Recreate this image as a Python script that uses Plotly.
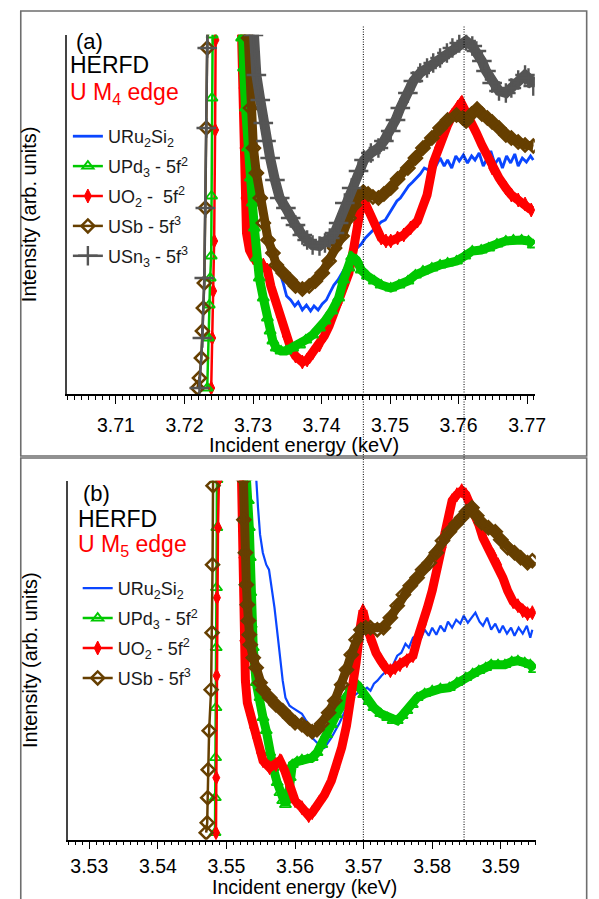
import plotly.graph_objects as go

# ---------------- Panel (a): U M4 edge ----------------
a_uru2si2_E = [3.72920, 3.72948, 3.72977, 3.73034, 3.73092, 3.7315, 3.7322, 3.7329, 3.7336, 3.7344, 3.7349, 3.7355, 3.7361, 3.7366, 3.7372, 3.7378, 3.7384, 3.7389, 3.7395, 3.7401, 3.7407, 3.7412, 3.7418, 3.7424, 3.7430, 3.7435, 3.7441, 3.7447, 3.7452, 3.7458, 3.7464, 3.7470, 3.7475, 3.7481, 3.7487, 3.7493, 3.7498, 3.7504, 3.7510, 3.7515, 3.7521, 3.7527, 3.7533, 3.7538, 3.7544, 3.7550, 3.7556, 3.7561, 3.7567, 3.7573, 3.7579, 3.7584, 3.7590, 3.7596, 3.7601, 3.7607, 3.7613, 3.7619, 3.7624, 3.7630, 3.7636, 3.7642, 3.7647, 3.7653, 3.7659, 3.7664, 3.7670, 3.7676, 3.7682, 3.7687, 3.7693, 3.7699, 3.7705, 3.7709]
a_uru2si2_I = [4.36, 3.26, 2.59, 2.26, 2.01, 1.81, 1.61, 1.44, 1.28, 1.11, 0.98, 0.94, 0.88, 0.92, 0.84, 0.89, 0.83, 0.88, 0.84, 0.90, 0.94, 1.01, 1.09, 1.14, 1.21, 1.28, 1.34, 1.41, 1.46, 1.50, 1.56, 1.60, 1.64, 1.68, 1.72, 1.74, 1.80, 1.86, 1.93, 1.96, 2.02, 2.08, 2.12, 2.16, 2.20, 2.26, 2.24, 2.33, 2.28, 2.36, 2.28, 2.34, 2.26, 2.38, 2.33, 2.39, 2.31, 2.38, 2.34, 2.41, 2.28, 2.36, 2.43, 2.30, 2.36, 2.26, 2.38, 2.31, 2.40, 2.28, 2.36, 2.32, 2.38, 2.34]

a_upd3_E = [3.72332, 3.72347, 3.72361, 3.72375, 3.72390, 3.72395, 3.72400, 3.72404, 3.72418, 3.72819, 3.72834, 3.72862, 3.72891, 3.72920, 3.72963, 3.72991, 3.73020, 3.73049, 3.73092, 3.7315, 3.7321, 3.7325, 3.7329, 3.7334, 3.7341, 3.7348, 3.7358, 3.7368, 3.7377, 3.7387, 3.7397, 3.7405, 3.7415, 3.7425, 3.7432, 3.7440, 3.7444, 3.7451, 3.7458, 3.7467, 3.7477, 3.7487, 3.7501, 3.7513, 3.7526, 3.7537, 3.7548, 3.7561, 3.7573, 3.7584, 3.7597, 3.7609, 3.7620, 3.7633, 3.7644, 3.7656, 3.7669, 3.7680, 3.7692, 3.7702, 3.7709]
a_upd3_I = [0.06, 0.56, 0.89, 1.16, 1.38, 1.98, 2.96, 3.59, 4.36, 4.36, 3.56, 3.26, 2.86, 2.46, 2.16, 1.91, 1.66, 1.36, 1.16, 0.96, 0.76, 0.63, 0.53, 0.46, 0.43, 0.43, 0.46, 0.49, 0.54, 0.59, 0.66, 0.73, 0.83, 0.96, 1.14, 1.26, 1.37, 1.34, 1.24, 1.18, 1.13, 1.09, 1.06, 1.09, 1.13, 1.19, 1.23, 1.26, 1.29, 1.31, 1.33, 1.38, 1.43, 1.44, 1.46, 1.50, 1.53, 1.54, 1.54, 1.53, 1.49]

a_uo2_E = [3.72390, 3.72404, 3.72418, 3.72433, 3.72447, 3.72452, 3.72461, 3.72805, 3.72834, 3.72848, 3.72862, 3.72877, 3.72905, 3.72948, 3.73006, 3.73077, 3.7315, 3.7321, 3.7326, 3.7332, 3.7339, 3.7348, 3.7355, 3.7362, 3.7372, 3.7379, 3.7387, 3.7397, 3.7404, 3.7411, 3.7418, 3.7425, 3.7432, 3.7440, 3.7447, 3.7452, 3.7460, 3.7465, 3.7472, 3.7480, 3.7487, 3.7494, 3.7501, 3.7511, 3.7520, 3.7530, 3.7540, 3.7547, 3.7554, 3.7563, 3.7570, 3.7577, 3.7584, 3.7591, 3.7599, 3.7604, 3.7610, 3.7616, 3.7626, 3.7634, 3.7642, 3.7649, 3.7659, 3.7669, 3.7677, 3.7687, 3.7697, 3.7706]
a_uo2_I = [0.06, 0.56, 1.03, 1.53, 2.64, 3.54, 4.36, 4.36, 3.59, 3.06, 2.46, 1.96, 1.61, 1.44, 1.36, 1.32, 1.29, 1.24, 1.08, 0.94, 0.78, 0.58, 0.46, 0.38, 0.32, 0.34, 0.41, 0.49, 0.58, 0.68, 0.81, 0.91, 1.06, 1.21, 1.46, 1.71, 1.98, 1.89, 1.79, 1.66, 1.56, 1.53, 1.53, 1.56, 1.59, 1.66, 1.73, 1.86, 1.99, 2.31, 2.46, 2.59, 2.69, 2.79, 2.87, 2.91, 2.83, 2.73, 2.61, 2.49, 2.38, 2.26, 2.16, 2.06, 1.99, 1.94, 1.90, 1.84]

a_usb_E = [3.72189, 3.72218, 3.72246, 3.72261, 3.72275, 3.72289, 3.72304, 3.72318, 3.72332, 3.72347, 3.72877, 3.72934, 3.72963, 3.73006, 3.73049, 3.73106, 3.7315, 3.7322, 3.7329, 3.7334, 3.7344, 3.7354, 3.7362, 3.7372, 3.7382, 3.7391, 3.7401, 3.7411, 3.7419, 3.7430, 3.7440, 3.7448, 3.7454, 3.7461, 3.7468, 3.7475, 3.7483, 3.7491, 3.7501, 3.7511, 3.7526, 3.7537, 3.7548, 3.7561, 3.7573, 3.7584, 3.7597, 3.7606, 3.7611, 3.7619, 3.7627, 3.7634, 3.7642, 3.7649, 3.7659, 3.7669, 3.7677, 3.7687, 3.7697, 3.7709]
a_usb_I = [0.06, 0.16, 0.36, 0.63, 0.86, 1.11, 1.86, 2.66, 3.46, 4.36, 4.36, 3.56, 2.86, 2.46, 2.21, 1.96, 1.71, 1.54, 1.41, 1.29, 1.21, 1.14, 1.08, 1.05, 1.08, 1.13, 1.21, 1.33, 1.46, 1.58, 1.76, 1.89, 1.98, 2.02, 2.00, 1.97, 1.96, 2.00, 2.06, 2.15, 2.26, 2.36, 2.46, 2.56, 2.66, 2.74, 2.79, 2.76, 2.73, 2.80, 2.85, 2.80, 2.76, 2.72, 2.66, 2.59, 2.56, 2.52, 2.49, 2.48]

a_usn3_E = [3.72218, 3.72261, 3.72289, 3.72304, 3.72318, 3.72332, 3.72347, 3.72948, 3.73006, 3.73049, 3.73106, 3.7315, 3.7319, 3.7325, 3.7332, 3.7339, 3.7348, 3.7355, 3.7362, 3.7372, 3.7379, 3.7387, 3.7397, 3.7405, 3.7412, 3.7419, 3.7425, 3.7434, 3.7444, 3.7454, 3.7462, 3.7472, 3.7483, 3.7491, 3.7501, 3.7508, 3.7515, 3.7526, 3.7534, 3.7544, 3.7554, 3.7563, 3.7573, 3.7583, 3.7591, 3.7601, 3.7611, 3.7620, 3.7626, 3.7634, 3.7640, 3.7649, 3.7659, 3.7669, 3.7677, 3.7687, 3.7697, 3.7702, 3.7709]
a_usn3_I = [0.06, 0.56, 1.16, 1.86, 2.66, 3.46, 4.36, 4.36, 3.59, 3.19, 2.94, 2.71, 2.53, 2.36, 2.14, 1.96, 1.86, 1.76, 1.69, 1.59, 1.54, 1.49, 1.48, 1.51, 1.56, 1.61, 1.71, 1.91, 2.06, 2.23, 2.34, 2.41, 2.46, 2.53, 2.63, 2.74, 2.86, 3.01, 3.13, 3.21, 3.26, 3.31, 3.36, 3.41, 3.46, 3.51, 3.53, 3.48, 3.43, 3.33, 3.23, 3.11, 3.03, 3.01, 3.06, 3.14, 3.19, 3.16, 3.08]

# ---------------- Panel (b): U M5 edge ----------------
b_uru2si2_E = [3.5540, 3.5542, 3.55433, 3.5546, 3.5549, 3.5553, 3.5558, 3.5562, 3.5566, 3.5570, 3.5575, 3.5578, 3.5582, 3.5586, 3.5592, 3.5596, 3.5603, 3.5610, 3.5618, 3.5625, 3.5632, 3.5639, 3.5643, 3.5653, 3.5665, 3.5675, 3.5686, 3.5694, 3.5699, 3.5705, 3.5710, 3.5715, 3.5720, 3.5726, 3.5732, 3.5738, 3.5743, 3.5749, 3.5755, 3.5761, 3.5766, 3.5772, 3.5778, 3.5783, 3.5789, 3.5795, 3.5800, 3.5806, 3.5812, 3.5818, 3.5823, 3.5829, 3.5835, 3.5841, 3.5846, 3.5852, 3.5858, 3.5863, 3.5869, 3.5874, 3.5880, 3.5886, 3.5892, 3.5898, 3.5903, 3.5909, 3.5915, 3.5920, 3.5926, 3.5932, 3.5938, 3.5943, 3.5946]
b_uru2si2_I = [4.32, 3.92, 3.62, 3.32, 3.05, 2.87, 2.75, 2.70, 2.52, 2.32, 2.02, 1.82, 1.59, 1.42, 1.34, 1.32, 1.29, 1.26, 1.17, 1.02, 0.97, 0.94, 0.92, 1.02, 1.17, 1.32, 1.44, 1.48, 1.49, 1.52, 1.49, 1.56, 1.59, 1.64, 1.68, 1.72, 1.75, 1.84, 1.87, 1.96, 1.92, 2.02, 2.05, 2.00, 2.10, 2.04, 2.12, 2.05, 2.14, 2.08, 2.18, 2.12, 2.20, 2.16, 2.24, 2.17, 2.22, 2.27, 2.18, 2.14, 2.22, 2.10, 2.16, 2.07, 2.14, 2.06, 2.12, 2.04, 2.12, 2.06, 2.14, 2.02, 2.10]

b_upd3_E = [3.54833, 3.54837, 3.54841, 3.54846, 3.54850, 3.54854, 3.54859, 3.54861, 3.54864, 3.55261, 3.55290, 3.55319, 3.55333, 3.55347, 3.55354, 3.55361, 3.55390, 3.55433, 3.55490, 3.55533, 3.5558, 3.5563, 3.5568, 3.5574, 3.5578, 3.5582, 3.5586, 3.5590, 3.5593, 3.5596, 3.5603, 3.5610, 3.5618, 3.5625, 3.5632, 3.5639, 3.5646, 3.5653, 3.5660, 3.5668, 3.5675, 3.5682, 3.5686, 3.5692, 3.5700, 3.5708, 3.5715, 3.5725, 3.5735, 3.5743, 3.5749, 3.5756, 3.5763, 3.5771, 3.5778, 3.5789, 3.5800, 3.5812, 3.5825, 3.5836, 3.5849, 3.5859, 3.5868, 3.5878, 3.5886, 3.5896, 3.5906, 3.5916, 3.5925, 3.5935, 3.5943, 3.5949]
b_upd3_I = [0.07, 0.42, 0.82, 1.32, 1.92, 2.52, 3.12, 3.60, 4.32, 4.32, 3.62, 3.39, 3.12, 2.82, 2.47, 2.15, 1.92, 1.57, 1.42, 1.22, 1.09, 0.87, 0.72, 0.57, 0.47, 0.39, 0.35, 0.42, 0.62, 0.75, 0.78, 0.80, 0.80, 0.82, 0.87, 0.95, 1.05, 1.15, 1.25, 1.35, 1.44, 1.52, 1.55, 1.54, 1.45, 1.38, 1.32, 1.26, 1.22, 1.19, 1.19, 1.24, 1.29, 1.35, 1.42, 1.46, 1.49, 1.51, 1.52, 1.57, 1.62, 1.66, 1.69, 1.72, 1.75, 1.75, 1.75, 1.78, 1.79, 1.77, 1.75, 1.70]

b_uo2_E = [3.54847, 3.54851, 3.54856, 3.54861, 3.54876, 3.54890, 3.54904, 3.55204, 3.55219, 3.55233, 3.55247, 3.55276, 3.55304, 3.55347, 3.55390, 3.55433, 3.55490, 3.55533, 3.5563, 3.5572, 3.5578, 3.5585, 3.5592, 3.5600, 3.5610, 3.5620, 3.5625, 3.5635, 3.5643, 3.5653, 3.5660, 3.5668, 3.5675, 3.5682, 3.5689, 3.5695, 3.5699, 3.5705, 3.5710, 3.5718, 3.5725, 3.5732, 3.5739, 3.5746, 3.5753, 3.5763, 3.5772, 3.5779, 3.5786, 3.5793, 3.5800, 3.5807, 3.5815, 3.5822, 3.5829, 3.5836, 3.5843, 3.5849, 3.5853, 3.5860, 3.5868, 3.5874, 3.5882, 3.5889, 3.5896, 3.5903, 3.5910, 3.5918, 3.5925, 3.5932, 3.5939, 3.5946]
b_uo2_I = [0.07, 0.62, 1.64, 2.42, 3.12, 3.60, 4.32, 4.32, 3.62, 2.82, 1.99, 1.59, 1.37, 1.25, 1.12, 1.02, 0.87, 0.79, 0.72, 0.75, 0.79, 0.69, 0.52, 0.39, 0.32, 0.24, 0.27, 0.37, 0.45, 0.59, 0.72, 0.92, 1.14, 1.42, 1.77, 2.12, 2.29, 2.12, 1.99, 1.87, 1.79, 1.72, 1.69, 1.72, 1.75, 1.79, 1.84, 2.02, 2.15, 2.32, 2.49, 2.70, 2.92, 3.17, 3.39, 3.45, 3.49, 3.45, 3.39, 3.27, 3.15, 3.02, 2.92, 2.84, 2.75, 2.62, 2.49, 2.38, 2.34, 2.29, 2.26, 2.27]

b_usb_E = [3.54704, 3.54719, 3.54726, 3.54733, 3.54747, 3.54776, 3.54790, 3.54797, 3.54804, 3.54819, 3.55233, 3.55247, 3.55254, 3.55276, 3.55290, 3.55304, 3.55319, 3.55333, 3.55347, 3.55390, 3.55433, 3.55490, 3.55533, 3.5563, 3.5572, 3.5582, 3.5592, 3.5600, 3.5610, 3.5618, 3.5625, 3.5632, 3.5639, 3.5649, 3.5658, 3.5668, 3.5675, 3.5682, 3.5689, 3.5696, 3.5703, 3.5710, 3.5720, 3.5729, 3.5739, 3.5749, 3.5758, 3.5768, 3.5778, 3.5786, 3.5796, 3.5806, 3.5815, 3.5825, 3.5835, 3.5843, 3.5850, 3.5858, 3.5865, 3.5872, 3.5882, 3.5892, 3.5900, 3.5910, 3.5920, 3.5929, 3.5939, 3.5946]
b_usb_I = [0.07, 0.17, 0.42, 0.70, 1.09, 1.50, 2.07, 2.75, 3.54, 4.32, 4.32, 3.60, 3.20, 2.87, 2.55, 2.35, 2.19, 2.05, 1.95, 1.82, 1.72, 1.57, 1.50, 1.42, 1.35, 1.29, 1.22, 1.17, 1.15, 1.11, 1.08, 1.10, 1.16, 1.27, 1.39, 1.55, 1.70, 1.85, 2.00, 2.10, 2.12, 2.12, 2.10, 2.12, 2.22, 2.34, 2.45, 2.54, 2.62, 2.70, 2.77, 2.87, 2.99, 3.08, 3.16, 3.22, 3.28, 3.32, 3.24, 3.17, 3.12, 3.08, 3.00, 2.92, 2.87, 2.82, 2.77, 2.79]

# reference energies (dotted lines) and axis ticks
ref_E_a = [3.7461, 3.7608]
ticks_a = [3.71, 3.72, 3.73, 3.74, 3.75, 3.76, 3.77]
ticks_b = [3.53, 3.54, 3.55, 3.56, 3.57, 3.58, 3.59]
YMAX_A, YMAX_B = 3.593, 3.59

FONT = "Liberation Sans, Arial, sans-serif"
BLUE, GREEN, RED, BROWN, GRAY = "#0a46ff", "#00c800", "#ff0000", "#663f00", "#555555"

fig = go.Figure()


def add(E, I, name, color, rank, ax, leg, symbol=None, lw=3.0, msize=10, mlw=1.5, band=0):
    xa, ya = ("x", "y") if ax == "a" else ("x2", "y2")
    ymax = YMAX_A if ax == "a" else YMAX_B
    if band:
        # dense measured points form a thick band after the white-line maximum
        off = [i for i, v in enumerate(I) if v > ymax]
        s = off[-1] if off else 0
        fig.add_trace(go.Scatter(x=E[s:], y=I[s:], mode="lines", xaxis=xa, yaxis=ya,
                                 showlegend=False, hoverinfo="skip",
                                 line=dict(color=color, width=band)))
    kw = dict(x=E, y=I, name=name, xaxis=xa, yaxis=ya, legend=leg,
              legendrank=rank, legendgroup=name + ax,
              line=dict(color=color, width=lw))
    if symbol is None:
        kw["mode"] = "lines"
    else:
        kw["mode"] = "lines+markers"
        kw["marker"] = dict(symbol=symbol, size=msize, color=color,
                            line=dict(color=color, width=mlw))
    fig.add_trace(go.Scatter(**kw))


n_uru = "URu<sub>2</sub>Si<sub>2</sub>"
n_upd = "UPd<sub>3</sub> - 5f<sup>2</sup>"
n_usb = "USb - 5f<sup>3</sup>"
n_usn = "USn<sub>3</sub> - 5f<sup>3</sup>"

# panel a
add(a_uru2si2_E, a_uru2si2_I, n_uru, BLUE, 1, "a", "legend", lw=2.8)
add(a_uo2_E, a_uo2_I, "UO<sub>2</sub> -\u00a0 5f<sup>2</sup>", RED, 3, "a", "legend", "diamond-tall", 2.5, 10, 1, band=9)
add(a_upd3_E, a_upd3_I, n_upd, GREEN, 2, "a", "legend", "triangle-up-open", 2.5, 10, 1.8, band=9)
add(a_usb_E, a_usb_I, n_usb, BROWN, 4, "a", "legend", "diamond-open", 2.5, 10, 2.5, band=9)
add(a_usn3_E, a_usn3_I, n_usn, GRAY, 5, "a", "legend", "cross-thin", 2.5, 14, 2.4, band=10)
# panel b
add(b_uru2si2_E, b_uru2si2_I, n_uru, BLUE, 1, "b", "legend2", lw=2.2)
add(b_upd3_E, b_upd3_I, n_upd, GREEN, 2, "b", "legend2", "triangle-up-open", 2.5, 10, 1.8, band=9)
add(b_uo2_E, b_uo2_I, "UO<sub>2</sub> - 5f<sup>2</sup>", RED, 3, "b", "legend2", "diamond-tall", 2.5, 10, 1, band=9)
add(b_usb_E, b_usb_I, n_usb, BROWN, 4, "b", "legend2", "diamond-open", 2.5, 10, 2.5, band=9)

W, H = 599, 899
px = lambda v: v / W
py = lambda v: (H - v) / H

xcommon = dict(showline=True, linecolor="black", linewidth=1.5, ticks="outside",
               ticklen=8, tickwidth=1.2, tickcolor="black", showgrid=False,
               zeroline=False, tickformat=".2f",
               tickfont=dict(family=FONT, size=19.5, color="black"),
               minor=dict(dtick=0.001, ticks="outside", ticklen=4, tickwidth=1,
                          tickcolor="black", showgrid=False))
ycommon = dict(showline=True, linecolor="#444444", linewidth=1.5, ticks="",
               showticklabels=False, showgrid=False, zeroline=False,
               title=dict(text="Intensity (arb. units)", standoff=23,
                          font=dict(family=FONT, size=20, color="black")))

legcommon = dict(xanchor="left", yanchor="top", bgcolor="rgba(0,0,0,0)",
                 borderwidth=0, traceorder="grouped", tracegroupgap=3.5,
                 font=dict(family=FONT, size=18, color="#1a1a1a"))

fig.update_layout(
    width=W, height=H, margin=dict(l=0, r=0, t=0, b=0),
    paper_bgcolor="white", plot_bgcolor="white",
    font=dict(family=FONT),
    xaxis=dict(domain=[px(60), px(536.7)], range=[3.70284, 3.77113], anchor="y",
               tickvals=ticks_a, ticklabelstandoff=5, **xcommon),
    yaxis=dict(domain=[py(386), py(26.7)], range=[0, YMAX_A], anchor="x", **ycommon),
    xaxis2=dict(domain=[px(60.7), px(537.7)], range=[3.52683, 3.59511], anchor="y2",
                tickvals=ticks_b, ticklabelstandoff=0, **xcommon),
    yaxis2=dict(domain=[py(831.7), py(472.7)], range=[0, YMAX_B], anchor="x2", **ycommon),
    legend=dict(x=px(61), y=py(110), **legcommon),
    legend2=dict(x=px(71), y=py(562), **legcommon),
    showlegend=True,
)

shapes = [
    dict(type="rect", xref="paper", yref="paper", x0=px(13), x1=px(589.5),
         y0=py(448), y1=py(3), line=dict(color="#6e6e6e", width=1.6), layer="below"),
    dict(type="rect", xref="paper", yref="paper", x0=px(13), x1=px(589.5),
         y0=py(896), y1=py(450), line=dict(color="#6e6e6e", width=1.6), layer="below"),
]
for e in ref_E_a:
    shapes.append(dict(type="line", xref="x", yref="paper", x0=e, x1=e,
                       y0=py(832), y1=py(18), layer="above",
                       line=dict(color="black", width=1, dash="1px,1.5px")))
fig.update_layout(shapes=shapes)

ann = [
    ("(a)", 68, 33, "black", 22, "left"), ("HERFD", 62, 57, "black", 23, "left"),
    ("U M<sub>4</sub> edge", 62, 85, "red", 23, "left"),
    ("(b)", 75, 485, "black", 22, "left"), ("HERFD", 70, 511, "black", 23, "left"),
    ("U M<sub>5</sub> edge", 70, 537, "red", 23, "left"),
    ("Incident energy (keV)", 302, 437, "black", 20, "center"),
    ("Incident energy (keV)", 302, 879, "black", 19.5, "center"),
]
fig.update_layout(annotations=[
    dict(text=t, x=px(xx), y=py(yy), xref="paper", yref="paper", xanchor=xa,
         yanchor="middle", showarrow=False, borderpad=0,
         font=dict(family=FONT, size=s, color=c)) for t, xx, yy, c, s, xa in ann])

fig.write_html("out.html")
